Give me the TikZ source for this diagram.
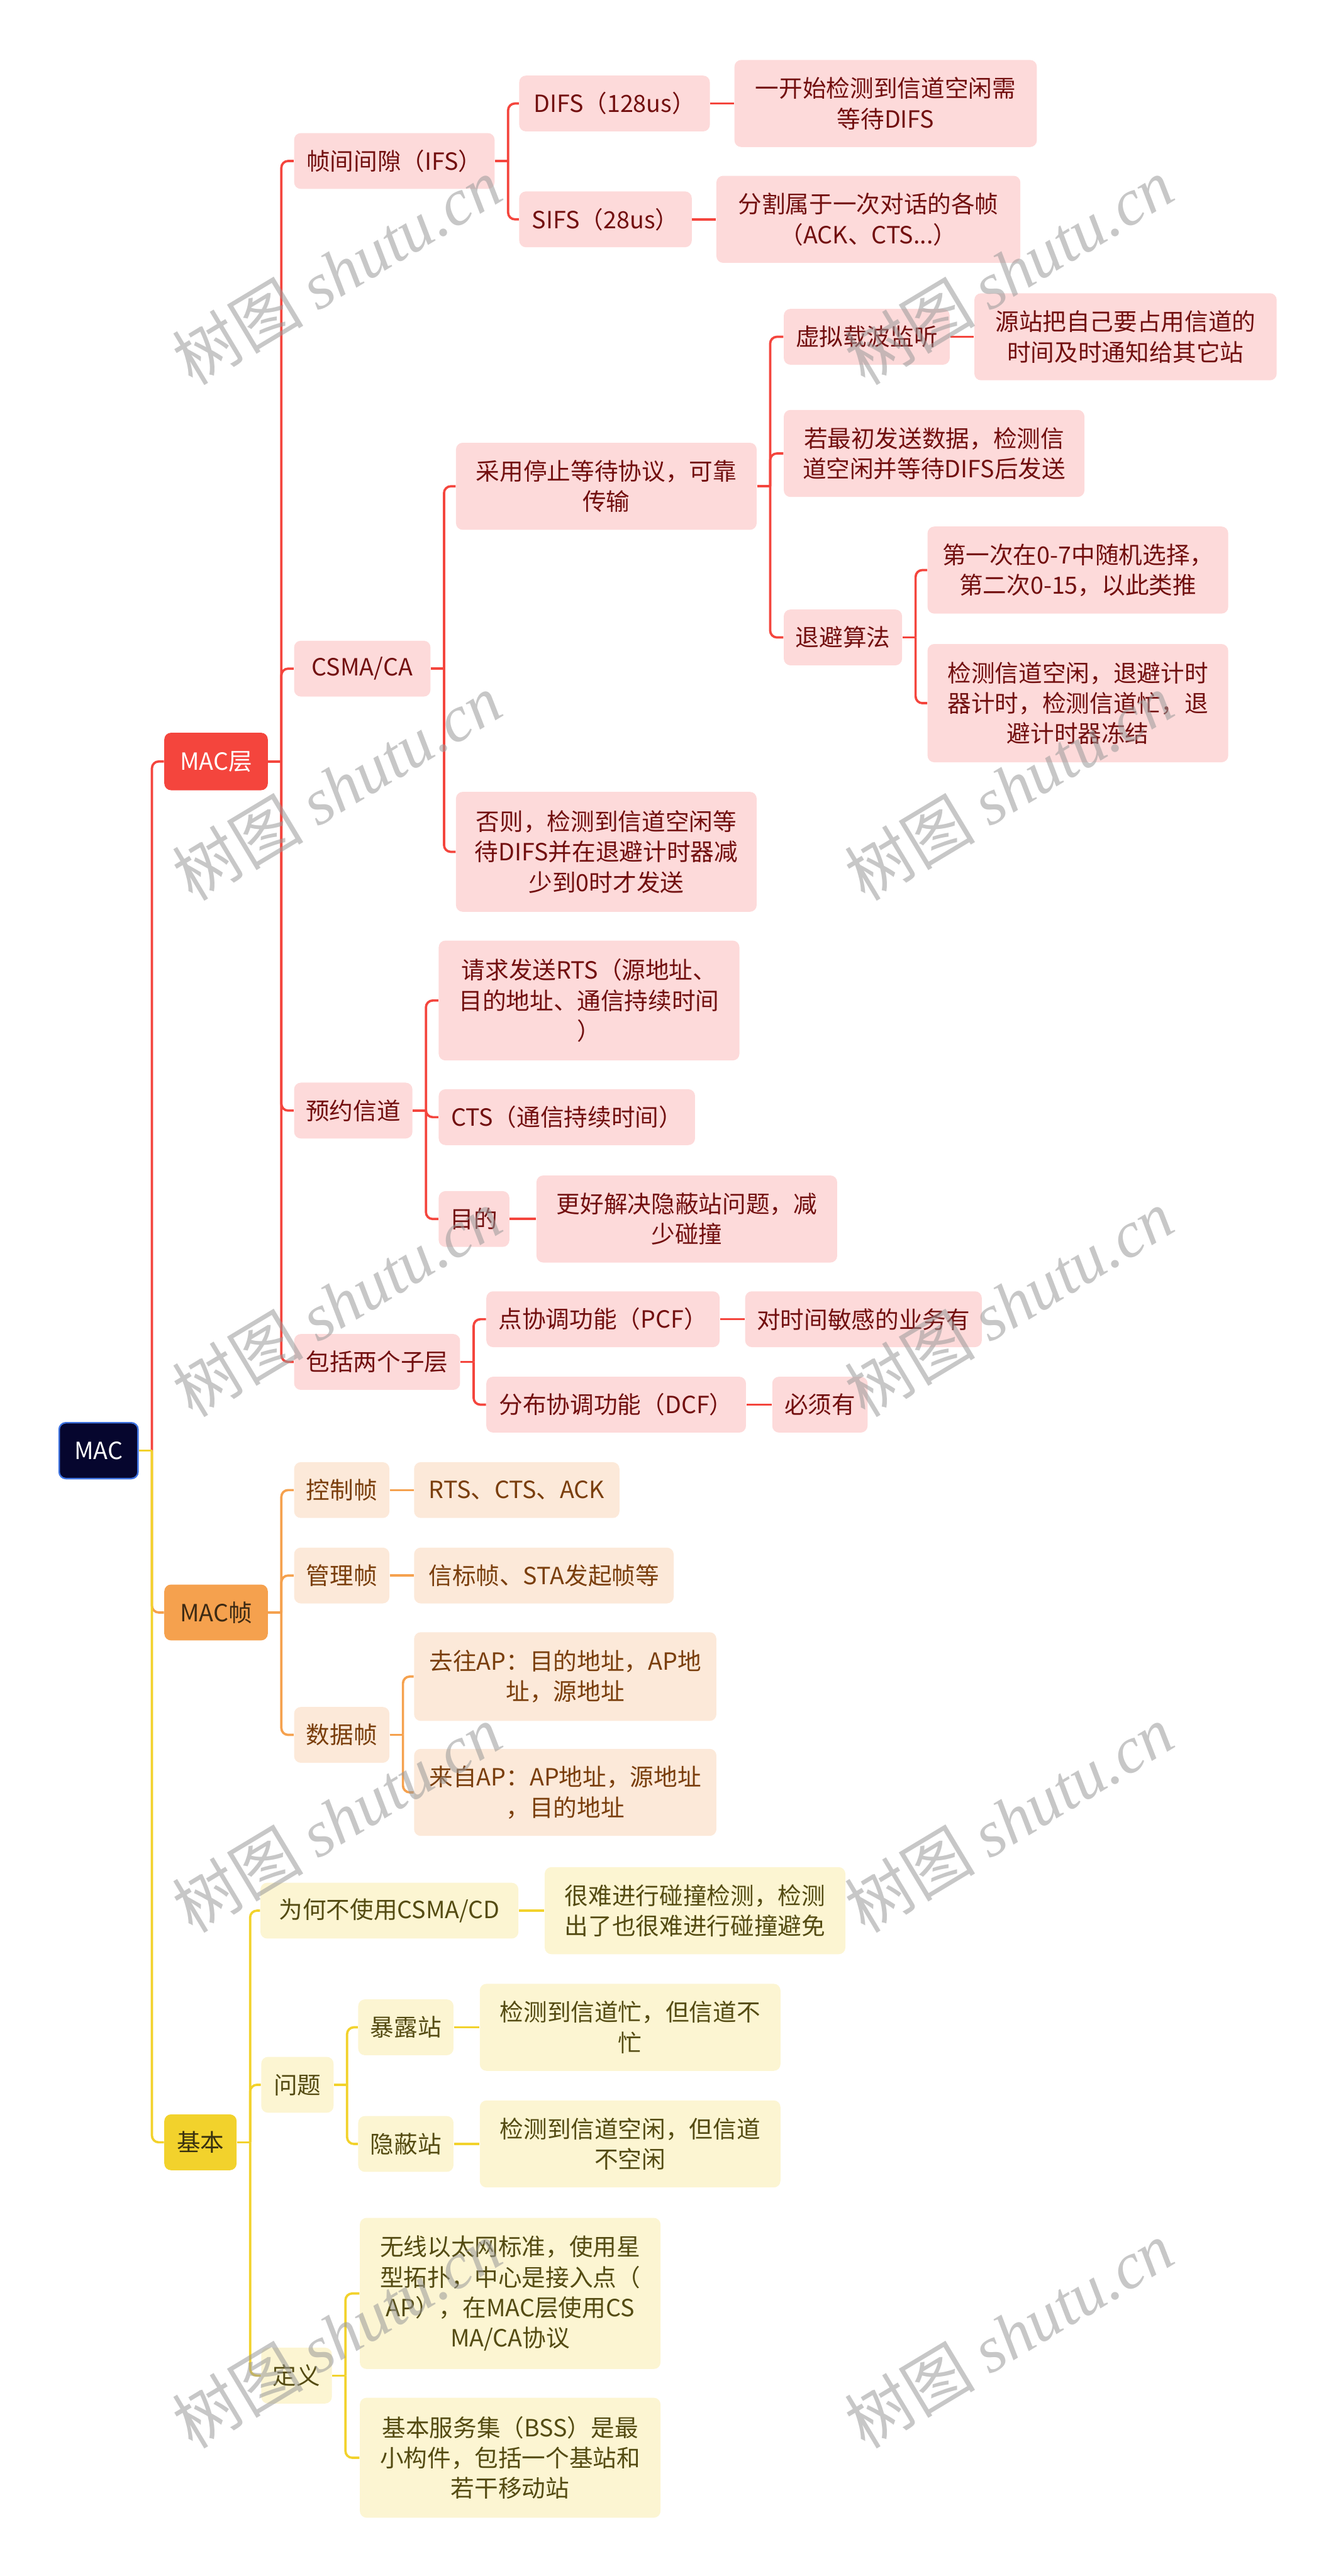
\documentclass[tikz,border=0pt]{standalone}
\usepackage{fontspec}
\setmainfont{Noto Sans CJK SC}
\newfontfamily\wmserif{Liberation Serif}
\usepackage{xcolor}
\definecolor{rootfill}{HTML}{06062E}
\definecolor{rootline}{HTML}{3E72E0}
\definecolor{redmain}{HTML}{F4453D}
\definecolor{redfill}{HTML}{FDDADA}
\definecolor{redtext}{HTML}{720F0F}
\definecolor{orgmain}{HTML}{F5A14E}
\definecolor{orgfill}{HTML}{FCE9D9}
\definecolor{orgtext}{HTML}{7A3E0C}
\definecolor{orgdark}{HTML}{3D2A14}
\definecolor{yelmain}{HTML}{F2D22C}
\definecolor{yelfill}{HTML}{FCF5D2}
\definecolor{yeltext}{HTML}{544B12}
\definecolor{yeldark}{HTML}{3A3210}

\begin{document}
\begin{tikzpicture}[x=0.03cm, y=-0.03cm,
  wh/.style 2 args={minimum width=#1*0.03cm, minimum height=#2*0.03cm},
  box/.style={rectangle, rounded corners=3.5pt, inner sep=0pt, align=center, font={\fontsize{12.3}{15.8}\selectfont}},
  rootbox/.style={box, fill=rootfill, draw=rootline, line width=0.8pt, text=white},
  redtop/.style={box, fill=redmain, text=white},
  redbox/.style={box, fill=redfill, text=redtext},
  orgtop/.style={box, fill=orgmain, text=orgdark},
  orgbox/.style={box, fill=orgfill, text=orgtext},
  yeltop/.style={box, fill=yelmain, text=yeldark},
  yelbox/.style={box, fill=yelfill, text=yeltext},
  redline/.style={draw=redmain, line width=1.2pt},
  orgline/.style={draw=orgmain, line width=1.2pt},
  yelline/.style={draw=yelmain, line width=1.2pt},
  wm/.style={rotate=31, text=black!40, text opacity=0.55, font={\fontsize{34}{34}\selectfont}}
]
  \useasboundingbox (0,0) rectangle (813,1568);

  \node[rootbox, wh={48}{34}] (root) at (60,883) {MAC};
  \node[redtop, wh={63}{35}] (mcl) at (131.5,463.5) {MAC层};
  \node[orgtop, wh={63}{34}] (mcz) at (131.5,981.5) {MAC帧};
  \node[yeltop, wh={44}{34}] (jb) at (122,1304) {基本};

  % MAC层
  \node[redbox, wh={122}{34}] (ifs) at (240,98) {帧间间隙（IFS）};
  \node[redbox, wh={116}{34}] (difs) at (374,63) {DIFS（128us）};
  \node[redbox, wh={184}{53}] (difsd) at (539,63) {一开始检测到信道空闲需\\等待DIFS};
  \node[redbox, wh={105}{34}] (sifs) at (368.5,133.5) {SIFS（28us）};
  \node[redbox, wh={185}{53}] (sifsd) at (528.5,133.5) {分割属于一次对话的各帧\\（ACK、CTS...）};
  \node[redbox, wh={83}{34}] (csma) at (220.5,407) {CSMA/CA};
  \node[redbox, wh={183}{53}] (tzdd) at (369,296) {采用停止等待协议，可靠\\传输};
  \node[redbox, wh={101}{34}] (xnzb) at (527.5,205) {虚拟载波监听};
  \node[redbox, wh={184}{53}] (xnzbd) at (685,205) {源站把自己要占用信道的\\时间及时通知给其它站};
  \node[redbox, wh={183}{53}] (rzc) at (568.5,276) {若最初发送数据，检测信\\道空闲并等待DIFS后发送};
  \node[redbox, wh={72}{34}] (tbsf) at (513,388) {退避算法};
  \node[redbox, wh={183}{53}] (tb1) at (656,347) {第一次在0-7中随机选择，\\第二次0-15，以此类推};
  \node[redbox, wh={183}{72}] (tb2) at (656,428) {检测信道空闲，退避计时\\器计时，检测信道忙，退\\避计时器冻结};
  \node[redbox, wh={183}{73}] (fz) at (369,518.5) {否则，检测到信道空闲等\\待DIFS并在退避计时器减\\少到0时才发送};
  \node[redbox, wh={72}{34}] (yyxd) at (215,676) {预约信道};
  \node[redbox, wh={183}{73}] (rts) at (358.5,609) {请求发送RTS（源地址、\\目的地址、通信持续时间\\）};
  \node[redbox, wh={156}{34}] (cts) at (345,680) {CTS（通信持续时间）};
  \node[redbox, wh={43}{34}] (md) at (288.5,742) {目的};
  \node[redbox, wh={183}{53}] (mdd) at (418,742) {更好解决隐蔽站问题，减\\少碰撞};
  \node[redbox, wh={101}{34}] (bkzc) at (229.5,829) {包括两个子层};
  \node[redbox, wh={142}{34}] (pcf) at (367,803) {点协调功能（PCF）};
  \node[redbox, wh={144}{34}] (pcfd) at (525.5,803) {对时间敏感的业务有};
  \node[redbox, wh={158}{34}] (dcf) at (375,855) {分布协调功能（DCF）};
  \node[redbox, wh={58}{34}] (dcfd) at (499,855) {必须有};

  % MAC帧
  \node[orgbox, wh={58}{34}] (kzz) at (208,907) {控制帧};
  \node[orgbox, wh={125}{34}] (kzzd) at (314.5,907) {RTS、CTS、ACK};
  \node[orgbox, wh={58}{34}] (glz) at (208,959) {管理帧};
  \node[orgbox, wh={158}{34}] (glzd) at (331,959) {信标帧、STA发起帧等};
  \node[orgbox, wh={58}{34}] (sjz) at (208,1056) {数据帧};
  \node[orgbox, wh={184}{54}] (qw) at (344,1020.5) {去往AP：目的地址，AP地\\址，源地址};
  \node[orgbox, wh={184}{53}] (lz) at (344,1091) {来自AP：AP地址，源地址\\，目的地址};

  % 基本
  \node[yelbox, wh={157}{34}] (wh) at (237,1163) {为何不使用CSMA/CD};
  \node[yelbox, wh={183}{53}] (whd) at (423,1163) {很难进行碰撞检测，检测\\出了也很难进行碰撞避免};
  \node[yelbox, wh={44}{34}] (wt) at (181,1269) {问题};
  \node[yelbox, wh={58}{34}] (blz) at (247,1234) {暴露站};
  \node[yelbox, wh={183}{53}] (blzd) at (383.5,1234) {检测到信道忙，但信道不\\忙};
  \node[yelbox, wh={58}{34}] (ybz) at (247,1305) {隐蔽站};
  \node[yelbox, wh={183}{53}] (ybzd) at (383.5,1305) {检测到信道空闲，但信道\\不空闲};
  \node[yelbox, wh={43}{34}] (dy) at (180.5,1446) {定义};
  \node[yelbox, wh={183}{92}] (dy1) at (310.5,1396) {无线以太网标准，使用星\\型拓扑，中心是接入点（\\AP），在MAC层使用CS\\MA/CA协议};
  \node[yelbox, wh={183}{73}] (dy2) at (310.5,1496) {基本服务集（BSS）是最\\小构件，包括一个基站和\\若干移动站};

  % connectors
  \foreach \p/\c in {root/mcl, mcl/ifs, mcl/csma, mcl/yyxd, mcl/bkzc, ifs/difs, ifs/sifs,
                     csma/tzdd, csma/fz, tzdd/xnzb, tzdd/rzc, tzdd/tbsf, tbsf/tb1, tbsf/tb2,
                     yyxd/rts, yyxd/cts, yyxd/md, bkzc/pcf, bkzc/dcf} {
    \draw[redline] (\p.east) -- ++(8,0) coordinate (j);
    \draw[redline, rounded corners=3.5pt] (j) |- (\c.west);
  }
  \foreach \p/\c in {difs/difsd, sifs/sifsd, xnzb/xnzbd, md/mdd, pcf/pcfd, dcf/dcfd}
    \draw[redline] (\p.east) -- (\c.west);

  \foreach \p/\c in {root/mcz, mcz/kzz, mcz/glz, mcz/sjz, sjz/qw, sjz/lz} {
    \draw[orgline] (\p.east) -- ++(8,0) coordinate (j);
    \draw[orgline, rounded corners=3.5pt] (j) |- (\c.west);
  }
  \foreach \p/\c in {kzz/kzzd, glz/glzd}
    \draw[orgline] (\p.east) -- (\c.west);

  \foreach \p/\c in {root/jb, jb/wh, jb/wt, jb/dy, wt/blz, wt/ybz, dy/dy1, dy/dy2} {
    \draw[yelline] (\p.east) -- ++(8,0) coordinate (j);
    \draw[yelline, rounded corners=3.5pt] (j) |- (\c.west);
  }
  \foreach \p/\c in {wh/whd, blz/blzd, ybz/ybzd}
    \draw[yelline] (\p.east) -- (\c.west);

  % watermark
  \foreach \k in {0,...,4} {
    \node[wm] (wmL\k) at (205,165+314*\k) {树图 {\wmserif\itshape shutu.cn}};
    \node[wm] (wmR\k) at (614,165+314*\k) {树图 {\wmserif\itshape shutu.cn}};
  }
\end{tikzpicture}
\end{document}
